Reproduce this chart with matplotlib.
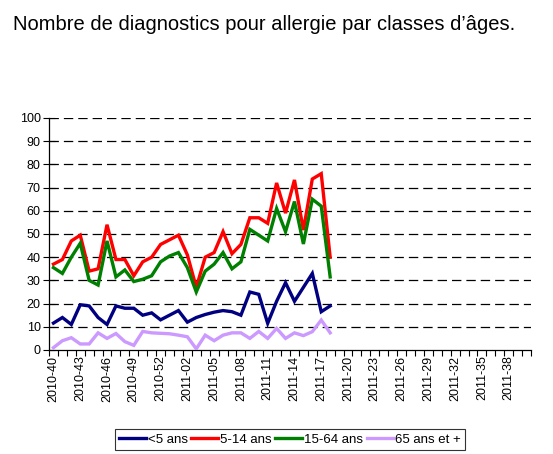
import matplotlib.pyplot as plt
import numpy as np

plt.rcParams['font.family'] = ['Liberation Sans', 'DejaVu Sans']

# weeks 2010-40 .. 2010-53, then 2011-01 .. 2011-40
weeks = ['2010-%02d' % w for w in range(40, 54)] + ['2011-%02d' % w for w in range(1, 41)]

under5 = [11.6, 14, 11, 19.5, 19, 14, 11, 19, 18, 18, 15, 16, 13, 15,
          17, 12, 14, 15.3, 16.3, 17, 16.5, 15, 25, 24, 11.5, 21, 29, 21,
          27, 33, 16.5, 19]
age5_14 = [37, 39, 47, 49.5, 34, 35, 54, 39, 39, 32, 38, 40, 45.5, 47.5,
           49.5, 41, 27, 40, 42, 51, 41.5, 45.5, 57, 57, 54.6, 72, 59, 73.3,
           51.7, 73.7, 76, 40]
age15_64 = [35.5, 33, 40, 46, 30, 28, 47, 31.5, 34.5, 29.5, 30.5, 32, 38, 40.5,
            42, 35.5, 25, 34, 37, 42, 35, 38, 52, 49.5, 47, 61, 51, 64,
            45.7, 65, 62, 31.5]
over65 = [1, 4, 5.3, 2.6, 2.6, 7.4, 5, 7.1, 3.6, 2, 8, 7.4, 7.2, 7,
          6.4, 5.7, 0.5, 6.4, 4, 6.4, 7.4, 7.4, 5, 8, 5, 9.3, 5, 7.4,
          6.2, 7.9, 12.9, 7.4]

series = [('<5 ans', under5, '#000080'),
          ('5-14 ans', age5_14, '#FF0000'),
          ('15-64 ans', age15_64, '#008000'),
          ('65 ans et +', over65, '#CC99FF')]

fig = plt.figure(figsize=(5.53, 4.54), dpi=100)
ax = fig.add_axes([49/553, 1-350/454, 482/553, 232/454])

for name, vals, col in series:
    ax.plot(np.arange(len(vals)), vals, color=col, lw=2.4, label=name,
            solid_joinstyle='miter', zorder=3)

ax.set_xlim(-0.5, len(weeks) - 0.5)
ax.set_ylim(0, 100)
ax.set_yticks(np.arange(0, 101, 10))
for y in range(10, 101, 10):
    ax.axhline(y, color='black', lw=0.9, dashes=(7.5, 4), zorder=1)

ax.set_xticks(np.arange(0, len(weeks), 3))
ax.set_xticklabels(weeks[::3], rotation=90, fontsize=9)
ax.set_xticks(np.arange(-0.5, len(weeks), 1), minor=True)
ax.tick_params(axis='x', which='major', length=0, pad=4)
ax.tick_params(axis='x', which='minor', length=4, width=0.8)
ax.tick_params(axis='y', direction='inout', length=8, width=0.8, labelsize=9, pad=2)

for s in ['top', 'right']:
    ax.spines[s].set_visible(False)
ax.spines['left'].set_linewidth(0.9)
ax.spines['bottom'].set_linewidth(0.9)

fig.text(264/553, 1-25/454, "Nombre de diagnostics pour allergie par classes d\u2019\u00e2ges.",
         ha='center', va='center', fontsize=14.5)

leg = fig.legend(loc='upper center', bbox_to_anchor=(290/553, 1-429/454), ncol=4,
                 fontsize=9.5, handlelength=2.0, handletextpad=0.15, columnspacing=0.3,
                 frameon=True, fancybox=False, borderpad=0.35, borderaxespad=0)
leg.get_frame().set_edgecolor('black')
leg.get_frame().set_linewidth(0.8)

fig.savefig('out.png', dpi=100)
